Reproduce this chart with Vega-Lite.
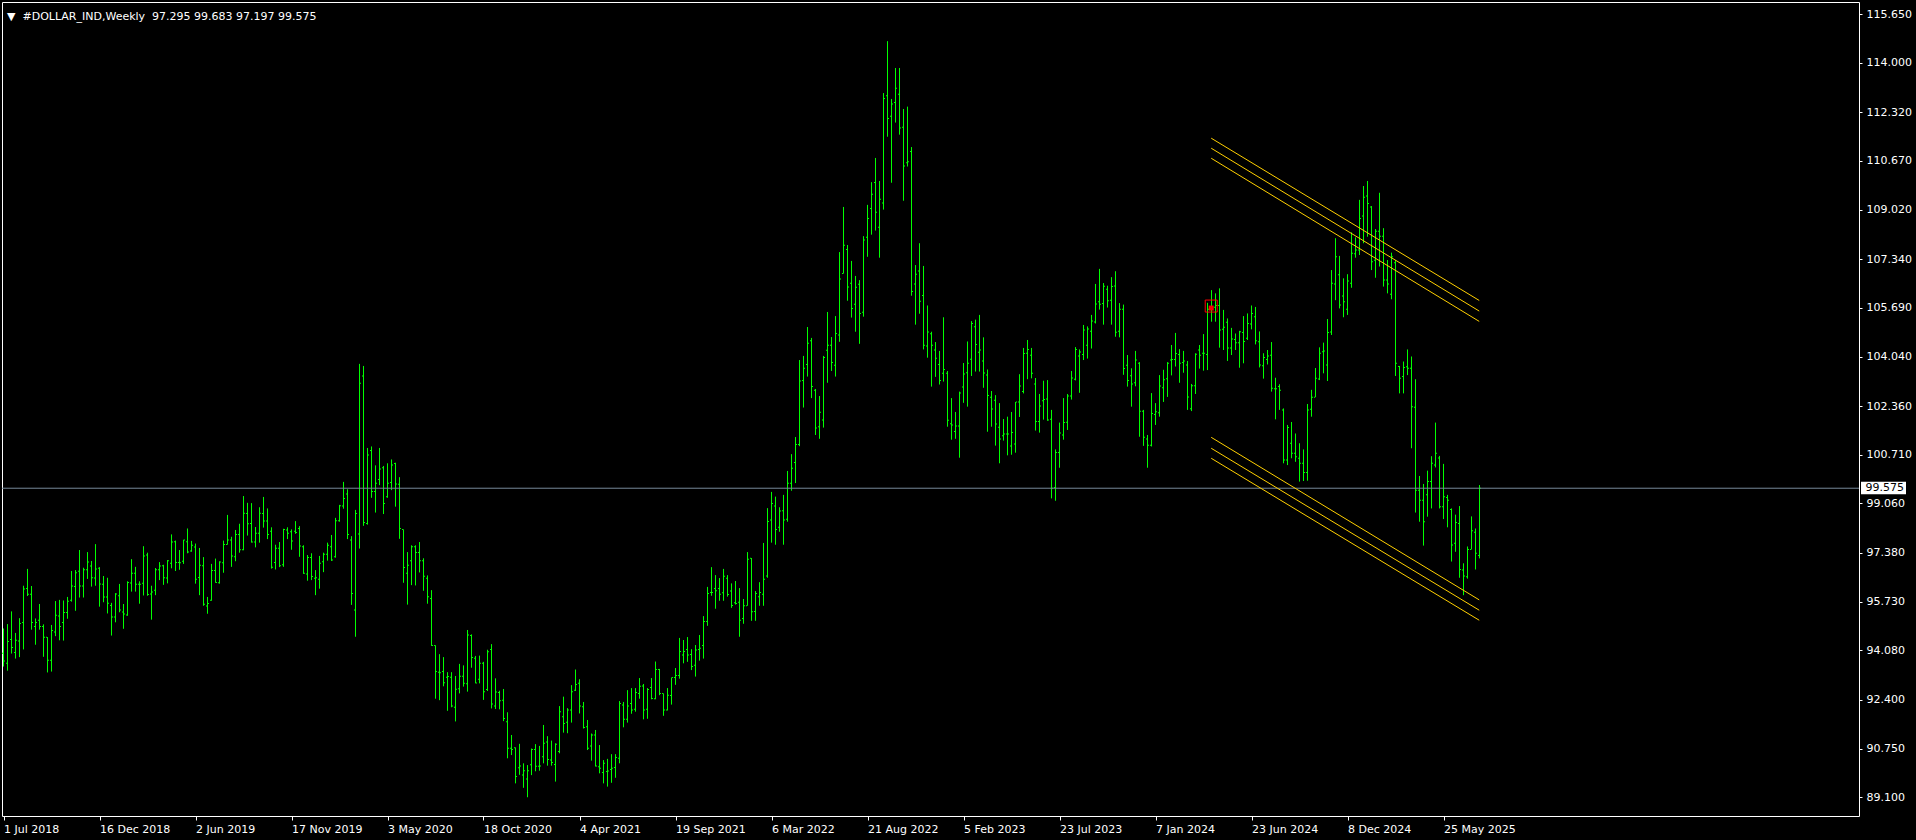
{
"$schema": "https://vega.github.io/schema/vega-lite/v6.json",
"width": 1857, "height": 814,
"autosize": {"type": "none"},
"padding": {"left": 2, "top": 2, "right": 57, "bottom": 24},
"background": "#000000",
"config": {"view": {"stroke": null}, "font": "DejaVu Sans", "axis": {"grid": false}},
"title": {"text": "▼\u00a0\u00a0#DOLLAR_IND,Weekly\u00a0\u00a097.295 99.683 97.197 99.575", "anchor": "start", "frame": "group", "orient": "top", "offset": -15, "baseline": "alphabetic", "dx": 5, "dy": 14, "color": "#ffffff", "fontSize": 11, "fontWeight": "normal", "font": "DejaVu Sans"},
"datasets": {
"bars": [
{"w":0,"o":93.98,"h":94.82,"l":93.53,"c":93.72},
{"w":1,"o":93.64,"h":94.97,"l":93.39,"c":94.38},
{"w":2,"o":94.45,"h":95.40,"l":93.97,"c":94.18},
{"w":3,"o":94.01,"h":94.67,"l":93.80,"c":94.42},
{"w":4,"o":94.40,"h":95.17,"l":93.85,"c":94.99},
{"w":5,"o":95.02,"h":96.27,"l":94.11,"c":96.16},
{"w":6,"o":96.18,"h":96.84,"l":95.92,"c":95.98},
{"w":7,"o":95.98,"h":96.26,"l":94.78,"c":95.02},
{"w":8,"o":94.89,"h":95.16,"l":94.27,"c":95.02},
{"w":9,"o":95.10,"h":95.65,"l":94.78,"c":94.89},
{"w":10,"o":94.89,"h":94.96,"l":93.86,"c":94.52},
{"w":11,"o":94.52,"h":94.53,"l":93.33,"c":93.74},
{"w":12,"o":93.74,"h":94.94,"l":93.36,"c":94.75},
{"w":13,"o":94.70,"h":95.75,"l":94.56,"c":95.27},
{"w":14,"o":95.24,"h":95.79,"l":94.42,"c":94.89},
{"w":15,"o":95.02,"h":95.77,"l":94.41,"c":95.36},
{"w":16,"o":95.36,"h":95.89,"l":95.15,"c":95.74},
{"w":17,"o":95.78,"h":96.77,"l":95.73,"c":96.26},
{"w":18,"o":96.24,"h":96.80,"l":95.42,"c":96.71},
{"w":19,"o":96.76,"h":97.48,"l":95.87,"c":96.26},
{"w":20,"o":96.26,"h":96.88,"l":95.87,"c":96.81},
{"w":21,"o":96.81,"h":97.41,"l":96.50,"c":97.07},
{"w":22,"o":96.94,"h":97.11,"l":96.24,"c":96.54},
{"w":23,"o":96.53,"h":97.68,"l":96.27,"c":96.84},
{"w":24,"o":96.86,"h":96.90,"l":95.56,"c":96.33},
{"w":25,"o":96.32,"h":96.60,"l":95.71,"c":95.89},
{"w":26,"o":95.89,"h":96.54,"l":95.33,"c":95.68},
{"w":27,"o":95.60,"h":95.69,"l":94.58,"c":95.21},
{"w":28,"o":95.21,"h":96.02,"l":95.03,"c":95.99},
{"w":29,"o":95.93,"h":96.33,"l":95.37,"c":95.45},
{"w":30,"o":95.38,"h":95.65,"l":94.81,"c":95.31},
{"w":31,"o":95.28,"h":96.42,"l":95.25,"c":96.38},
{"w":32,"o":96.36,"h":97.17,"l":96.07,"c":96.69},
{"w":33,"o":96.69,"h":96.91,"l":96.07,"c":96.32},
{"w":34,"o":96.32,"h":96.42,"l":95.66,"c":96.32},
{"w":35,"o":96.35,"h":97.61,"l":95.94,"c":97.28},
{"w":36,"o":97.31,"h":97.39,"l":95.93,"c":95.97},
{"w":37,"o":95.99,"h":96.27,"l":95.12,"c":96.06},
{"w":38,"o":96.12,"h":96.87,"l":95.95,"c":96.81},
{"w":39,"o":96.81,"h":97.07,"l":96.46,"c":96.94},
{"w":40,"o":96.95,"h":96.98,"l":96.30,"c":96.54},
{"w":41,"o":96.53,"h":97.14,"l":96.35,"c":97.12},
{"w":42,"o":97.03,"h":98.01,"l":96.86,"c":97.75},
{"w":43,"o":97.76,"h":97.80,"l":96.77,"c":97.06},
{"w":44,"o":97.06,"h":97.48,"l":96.81,"c":97.05},
{"w":45,"o":97.10,"h":97.83,"l":97.01,"c":97.82},
{"w":46,"o":97.76,"h":98.21,"l":97.37,"c":97.41},
{"w":47,"o":97.45,"h":97.79,"l":97.42,"c":97.64},
{"w":48,"o":97.58,"h":97.70,"l":96.34,"c":96.49},
{"w":49,"o":96.55,"h":97.55,"l":95.95,"c":96.96},
{"w":50,"o":96.95,"h":97.24,"l":95.59,"c":95.64},
{"w":51,"o":95.58,"h":95.89,"l":95.32,"c":95.67},
{"w":52,"o":95.78,"h":97.01,"l":95.76,"c":96.79},
{"w":53,"o":96.79,"h":97.19,"l":96.37,"c":96.38},
{"w":54,"o":96.37,"h":97.10,"l":96.34,"c":97.07},
{"w":55,"o":97.05,"h":97.80,"l":96.71,"c":97.67},
{"w":56,"o":97.67,"h":98.67,"l":97.66,"c":97.82},
{"w":57,"o":97.82,"h":97.93,"l":96.91,"c":97.28},
{"w":58,"o":97.25,"h":98.16,"l":97.10,"c":98.01},
{"w":59,"o":98.01,"h":98.37,"l":97.39,"c":97.49},
{"w":60,"o":97.49,"h":99.31,"l":97.47,"c":98.73},
{"w":61,"o":98.72,"h":99.08,"l":97.97,"c":98.37},
{"w":62,"o":98.38,"h":99.07,"l":97.73,"c":97.75},
{"w":63,"o":97.75,"h":98.26,"l":97.57,"c":98.05},
{"w":64,"o":98.05,"h":98.93,"l":97.73,"c":98.73},
{"w":65,"o":98.72,"h":99.28,"l":98.24,"c":98.46},
{"w":66,"o":98.46,"h":98.89,"l":97.85,"c":98.01},
{"w":67,"o":98.12,"h":98.25,"l":96.85,"c":96.90},
{"w":68,"o":97.06,"h":97.66,"l":96.82,"c":97.54},
{"w":69,"o":97.54,"h":97.75,"l":96.90,"c":96.95},
{"w":70,"o":96.98,"h":98.20,"l":96.91,"c":98.18},
{"w":71,"o":98.16,"h":98.25,"l":97.85,"c":98.05},
{"w":72,"o":98.10,"h":98.18,"l":97.49,"c":97.79},
{"w":73,"o":98.12,"h":98.46,"l":98.03,"c":98.07},
{"w":74,"o":98.21,"h":98.29,"l":97.25,"c":97.62},
{"w":75,"o":97.59,"h":97.64,"l":96.67,"c":96.69},
{"w":76,"o":96.67,"h":97.31,"l":96.44,"c":97.23},
{"w":77,"o":97.23,"h":97.37,"l":96.46,"c":96.58},
{"w":78,"o":96.52,"h":96.80,"l":95.95,"c":96.54},
{"w":79,"o":96.49,"h":97.28,"l":96.17,"c":97.03},
{"w":80,"o":97.08,"h":97.39,"l":96.73,"c":97.34},
{"w":81,"o":97.34,"h":97.73,"l":97.12,"c":97.64},
{"w":82,"o":97.59,"h":97.99,"l":97.11,"c":97.14},
{"w":83,"o":97.25,"h":98.57,"l":97.22,"c":98.47},
{"w":84,"o":98.47,"h":99.01,"l":98.44,"c":98.98},
{"w":85,"o":98.97,"h":99.79,"l":98.88,"c":99.23},
{"w":86,"o":99.38,"h":99.54,"l":97.85,"c":98.01},
{"w":87,"o":97.82,"h":97.95,"l":95.62,"c":96.01},
{"w":88,"o":95.45,"h":98.84,"l":94.54,"c":98.72},
{"w":89,"o":98.02,"h":103.79,"l":97.53,"c":103.13},
{"w":90,"o":103.38,"h":103.72,"l":98.30,"c":98.41},
{"w":91,"o":98.38,"h":100.94,"l":98.34,"c":100.70},
{"w":92,"o":100.85,"h":100.99,"l":99.25,"c":99.46},
{"w":93,"o":99.46,"h":100.35,"l":98.75,"c":99.74},
{"w":94,"o":99.87,"h":100.94,"l":99.68,"c":100.23},
{"w":95,"o":100.27,"h":100.33,"l":98.70,"c":99.06},
{"w":96,"o":99.29,"h":100.42,"l":99.25,"c":99.74},
{"w":97,"o":99.77,"h":100.55,"l":99.51,"c":100.36},
{"w":98,"o":100.41,"h":100.44,"l":98.95,"c":99.72},
{"w":99,"o":99.71,"h":99.95,"l":97.86,"c":98.21},
{"w":100,"o":98.18,"h":98.18,"l":96.37,"c":96.89},
{"w":101,"o":96.69,"h":97.41,"l":95.63,"c":96.96},
{"w":102,"o":97.12,"h":97.64,"l":96.29,"c":97.59},
{"w":103,"o":97.59,"h":97.64,"l":96.28,"c":97.40},
{"w":104,"o":97.40,"h":97.75,"l":96.72,"c":97.12},
{"w":105,"o":97.12,"h":97.20,"l":96.10,"c":96.59},
{"w":106,"o":96.52,"h":96.62,"l":95.66,"c":95.90},
{"w":107,"o":95.84,"h":96.12,"l":94.23,"c":94.24},
{"w":108,"o":94.24,"h":94.25,"l":92.44,"c":93.36},
{"w":109,"o":93.34,"h":93.95,"l":92.39,"c":93.32},
{"w":110,"o":93.36,"h":93.85,"l":92.86,"c":92.98},
{"w":111,"o":93.17,"h":93.34,"l":92.03,"c":93.19},
{"w":112,"o":93.17,"h":93.34,"l":92.15,"c":92.19},
{"w":113,"o":92.15,"h":93.21,"l":91.67,"c":92.76},
{"w":114,"o":92.78,"h":93.62,"l":92.62,"c":93.20},
{"w":115,"o":93.20,"h":93.57,"l":92.85,"c":92.96},
{"w":116,"o":92.95,"h":94.77,"l":92.68,"c":94.60},
{"w":117,"o":94.58,"h":94.62,"l":93.49,"c":93.84},
{"w":118,"o":93.81,"h":93.89,"l":92.96,"c":92.97},
{"w":119,"o":93.10,"h":93.90,"l":92.96,"c":93.64},
{"w":120,"o":93.64,"h":93.69,"l":92.40,"c":92.68},
{"w":121,"o":92.75,"h":94.10,"l":92.70,"c":94.03},
{"w":122,"o":94.11,"h":94.29,"l":92.11,"c":92.26},
{"w":123,"o":92.19,"h":93.13,"l":92.09,"c":92.67},
{"w":124,"o":92.65,"h":92.71,"l":92.08,"c":92.37},
{"w":125,"o":92.39,"h":92.77,"l":91.68,"c":91.77},
{"w":126,"o":91.66,"h":91.98,"l":90.42,"c":90.76},
{"w":127,"o":90.76,"h":91.21,"l":90.53,"c":90.72},
{"w":128,"o":90.78,"h":90.79,"l":89.57,"c":89.80},
{"w":129,"o":90.10,"h":90.91,"l":89.86,"c":90.16},
{"w":130,"o":89.85,"h":90.25,"l":89.42,"c":90.00},
{"w":131,"o":89.72,"h":90.19,"l":89.10,"c":90.00},
{"w":132,"o":90.20,"h":90.75,"l":89.85,"c":90.72},
{"w":133,"o":90.72,"h":90.90,"l":89.98,"c":90.15},
{"w":134,"o":90.15,"h":90.84,"l":90.00,"c":90.16},
{"w":135,"o":90.47,"h":91.55,"l":90.25,"c":90.93},
{"w":136,"o":90.97,"h":91.17,"l":90.17,"c":90.38},
{"w":137,"o":90.36,"h":91.02,"l":90.17,"c":90.28},
{"w":138,"o":90.21,"h":90.93,"l":89.63,"c":90.90},
{"w":139,"o":90.65,"h":92.19,"l":90.59,"c":92.00},
{"w":140,"o":91.83,"h":92.51,"l":91.29,"c":91.60},
{"w":141,"o":91.64,"h":92.12,"l":91.27,"c":92.06},
{"w":142,"o":92.06,"h":92.90,"l":91.63,"c":92.68},
{"w":143,"o":92.73,"h":93.43,"l":92.70,"c":92.92},
{"w":144,"o":92.96,"h":93.10,"l":91.94,"c":92.19},
{"w":145,"o":92.17,"h":92.33,"l":91.43,"c":91.46},
{"w":146,"o":91.49,"h":91.72,"l":90.70,"c":90.76},
{"w":147,"o":90.84,"h":91.26,"l":90.34,"c":91.21},
{"w":148,"o":91.21,"h":91.38,"l":90.14,"c":90.16},
{"w":149,"o":90.13,"h":90.87,"l":89.91,"c":90.08},
{"w":150,"o":89.94,"h":90.36,"l":89.57,"c":90.25},
{"w":151,"o":89.97,"h":90.40,"l":89.46,"c":89.99},
{"w":152,"o":90.04,"h":90.56,"l":89.59,"c":90.08},
{"w":153,"o":90.11,"h":90.56,"l":89.76,"c":90.45},
{"w":154,"o":90.42,"h":92.36,"l":90.25,"c":92.28},
{"w":155,"o":92.23,"h":92.33,"l":91.47,"c":91.74},
{"w":156,"o":91.74,"h":92.73,"l":91.63,"c":92.19},
{"w":157,"o":92.28,"h":92.80,"l":91.93,"c":92.06},
{"w":158,"o":92.08,"h":92.80,"l":92.00,"c":92.65},
{"w":159,"o":92.62,"h":93.14,"l":92.44,"c":92.86},
{"w":160,"o":92.87,"h":92.94,"l":91.74,"c":92.06},
{"w":161,"o":92.08,"h":92.80,"l":91.76,"c":92.75},
{"w":162,"o":92.82,"h":93.14,"l":92.42,"c":92.45},
{"w":163,"o":92.44,"h":93.70,"l":92.42,"c":93.43},
{"w":164,"o":93.43,"h":93.45,"l":92.56,"c":92.62},
{"w":165,"o":92.62,"h":92.62,"l":91.86,"c":92.06},
{"w":166,"o":92.06,"h":92.80,"l":92.04,"c":92.56},
{"w":167,"o":92.55,"h":93.16,"l":92.24,"c":93.16},
{"w":168,"o":93.16,"h":93.48,"l":92.91,"c":93.23},
{"w":169,"o":93.23,"h":94.50,"l":93.12,"c":94.04},
{"w":170,"o":93.92,"h":94.43,"l":93.64,"c":94.04},
{"w":171,"o":94.11,"h":94.53,"l":93.69,"c":93.92},
{"w":172,"o":93.94,"h":94.12,"l":93.41,"c":93.53},
{"w":173,"o":93.57,"h":94.26,"l":93.19,"c":94.09},
{"w":174,"o":94.11,"h":94.60,"l":93.73,"c":94.15},
{"w":175,"o":94.24,"h":95.24,"l":93.80,"c":95.06},
{"w":176,"o":95.06,"h":96.23,"l":94.91,"c":96.01},
{"w":177,"o":96.04,"h":96.90,"l":95.93,"c":96.04},
{"w":178,"o":96.18,"h":96.63,"l":95.49,"c":96.10},
{"w":179,"o":96.18,"h":96.53,"l":95.76,"c":95.98},
{"w":180,"o":96.03,"h":96.84,"l":95.76,"c":96.59},
{"w":181,"o":96.52,"h":96.63,"l":95.90,"c":95.97},
{"w":182,"o":96.09,"h":96.35,"l":95.52,"c":95.60},
{"w":183,"o":95.69,"h":96.43,"l":95.63,"c":95.67},
{"w":184,"o":95.71,"h":96.19,"l":94.54,"c":95.10},
{"w":185,"o":95.16,"h":95.82,"l":94.98,"c":95.59},
{"w":186,"o":95.59,"h":97.41,"l":95.59,"c":97.17},
{"w":187,"o":97.20,"h":97.21,"l":95.08,"c":95.39},
{"w":188,"o":95.40,"h":96.09,"l":95.08,"c":96.01},
{"w":189,"o":95.90,"h":96.39,"l":95.59,"c":96.04},
{"w":190,"o":95.98,"h":97.72,"l":95.59,"c":96.49},
{"w":191,"o":96.60,"h":98.90,"l":96.54,"c":98.45},
{"w":192,"o":98.50,"h":99.45,"l":97.73,"c":99.06},
{"w":193,"o":98.97,"h":99.29,"l":97.66,"c":98.18},
{"w":194,"o":98.25,"h":98.93,"l":98.10,"c":98.80},
{"w":195,"o":98.81,"h":99.35,"l":97.66,"c":98.50},
{"w":196,"o":98.52,"h":100.16,"l":98.44,"c":99.74},
{"w":197,"o":99.74,"h":100.73,"l":99.49,"c":100.25},
{"w":198,"o":100.45,"h":101.31,"l":99.75,"c":101.06},
{"w":199,"o":101.06,"h":103.92,"l":101.00,"c":103.21},
{"w":200,"o":103.23,"h":104.06,"l":102.31,"c":103.64},
{"w":201,"o":103.77,"h":105.04,"l":103.36,"c":104.49},
{"w":202,"o":104.57,"h":104.67,"l":102.63,"c":103.02},
{"w":203,"o":102.90,"h":102.94,"l":101.38,"c":101.62},
{"w":204,"o":101.66,"h":102.70,"l":101.25,"c":102.15},
{"w":205,"o":101.89,"h":104.06,"l":101.63,"c":104.01},
{"w":206,"o":104.25,"h":105.55,"l":103.15,"c":104.42},
{"w":207,"o":104.42,"h":104.70,"l":103.55,"c":103.84},
{"w":208,"o":103.74,"h":105.41,"l":103.36,"c":104.82},
{"w":209,"o":104.77,"h":107.58,"l":104.54,"c":106.67},
{"w":210,"o":106.85,"h":109.11,"l":106.85,"c":107.81},
{"w":211,"o":107.67,"h":107.82,"l":105.93,"c":106.40},
{"w":212,"o":106.52,"h":107.28,"l":105.36,"c":105.67},
{"w":213,"o":105.81,"h":106.77,"l":104.88,"c":106.39},
{"w":214,"o":106.49,"h":106.63,"l":104.47,"c":105.50},
{"w":215,"o":105.54,"h":108.12,"l":105.39,"c":107.99},
{"w":216,"o":108.08,"h":109.18,"l":107.42,"c":108.72},
{"w":217,"o":109.06,"h":109.95,"l":108.17,"c":109.54},
{"w":218,"o":109.94,"h":110.77,"l":108.31,"c":108.93},
{"w":219,"o":108.42,"h":109.99,"l":107.39,"c":109.37},
{"w":220,"o":109.24,"h":112.97,"l":109.02,"c":112.79},
{"w":221,"o":112.88,"h":114.73,"l":111.49,"c":112.11},
{"w":222,"o":112.18,"h":112.77,"l":109.93,"c":112.60},
{"w":223,"o":112.65,"h":113.82,"l":111.97,"c":113.13},
{"w":224,"o":112.93,"h":113.82,"l":111.56,"c":111.79},
{"w":225,"o":111.81,"h":112.43,"l":109.32,"c":110.50},
{"w":226,"o":110.61,"h":112.51,"l":110.48,"c":110.64},
{"w":227,"o":110.99,"h":111.14,"l":106.10,"c":106.24},
{"w":228,"o":106.50,"h":107.14,"l":105.12,"c":106.83},
{"w":229,"o":106.94,"h":107.88,"l":105.49,"c":105.91},
{"w":230,"o":106.11,"h":107.11,"l":104.28,"c":104.42},
{"w":231,"o":104.40,"h":105.77,"l":104.00,"c":104.87},
{"w":232,"o":104.81,"h":104.88,"l":103.02,"c":104.42},
{"w":233,"o":104.26,"h":104.53,"l":103.35,"c":103.98},
{"w":234,"o":103.77,"h":104.23,"l":103.09,"c":103.23},
{"w":235,"o":103.47,"h":105.37,"l":103.19,"c":103.60},
{"w":236,"o":103.47,"h":103.55,"l":101.66,"c":101.88},
{"w":237,"o":101.76,"h":102.63,"l":101.22,"c":101.72},
{"w":238,"o":101.50,"h":102.16,"l":101.25,"c":101.68},
{"w":239,"o":101.68,"h":102.85,"l":100.61,"c":102.80},
{"w":240,"o":103.01,"h":103.82,"l":102.47,"c":103.45},
{"w":241,"o":103.49,"h":104.55,"l":102.34,"c":103.81},
{"w":242,"o":103.95,"h":105.24,"l":103.38,"c":105.16},
{"w":243,"o":105.05,"h":105.29,"l":103.53,"c":104.45},
{"w":244,"o":104.18,"h":105.45,"l":103.53,"c":104.26},
{"w":245,"o":103.89,"h":104.69,"l":102.98,"c":103.48},
{"w":246,"o":103.41,"h":103.60,"l":101.49,"c":102.72},
{"w":247,"o":102.66,"h":102.87,"l":101.66,"c":102.26},
{"w":248,"o":102.56,"h":102.73,"l":101.02,"c":101.75},
{"w":249,"o":101.64,"h":102.46,"l":100.42,"c":101.24},
{"w":250,"o":101.35,"h":101.92,"l":101.19,"c":101.41},
{"w":251,"o":101.41,"h":102.00,"l":100.69,"c":101.41},
{"w":252,"o":101.01,"h":102.16,"l":100.71,"c":101.46},
{"w":253,"o":101.07,"h":102.50,"l":100.78,"c":102.50},
{"w":254,"o":102.50,"h":103.44,"l":101.99,"c":103.04},
{"w":255,"o":102.85,"h":104.33,"l":102.79,"c":104.14},
{"w":256,"o":104.15,"h":104.60,"l":103.27,"c":104.28},
{"w":257,"o":104.08,"h":104.33,"l":103.30,"c":103.47},
{"w":258,"o":103.11,"h":103.31,"l":101.53,"c":101.84},
{"w":259,"o":101.84,"h":102.77,"l":101.46,"c":102.36},
{"w":260,"o":102.54,"h":103.22,"l":101.90,"c":102.58},
{"w":261,"o":102.60,"h":103.24,"l":101.86,"c":101.89},
{"w":262,"o":101.91,"h":102.23,"l":99.23,"c":99.57},
{"w":263,"o":99.60,"h":100.89,"l":99.15,"c":100.79},
{"w":264,"o":100.79,"h":101.80,"l":100.27,"c":101.45},
{"w":265,"o":101.38,"h":102.63,"l":101.22,"c":101.80},
{"w":266,"o":101.81,"h":102.77,"l":101.55,"c":102.70},
{"w":267,"o":102.70,"h":103.55,"l":102.58,"c":103.31},
{"w":268,"o":103.27,"h":104.36,"l":103.23,"c":104.28},
{"w":269,"o":104.06,"h":104.28,"l":102.81,"c":104.19},
{"w":270,"o":104.11,"h":105.11,"l":103.92,"c":104.94},
{"w":271,"o":104.42,"h":105.06,"l":103.97,"c":104.97},
{"w":272,"o":104.90,"h":105.45,"l":104.31,"c":105.24},
{"w":273,"o":105.21,"h":106.50,"l":105.16,"c":105.82},
{"w":274,"o":105.90,"h":107.01,"l":105.63,"c":105.81},
{"w":275,"o":105.84,"h":106.53,"l":105.12,"c":106.42},
{"w":276,"o":106.32,"h":106.44,"l":105.70,"c":105.93},
{"w":277,"o":105.95,"h":106.73,"l":105.12,"c":106.41},
{"w":278,"o":106.43,"h":106.93,"l":104.71,"c":104.86},
{"w":279,"o":104.90,"h":105.85,"l":104.69,"c":105.64},
{"w":280,"o":105.64,"h":105.80,"l":103.42,"c":103.63},
{"w":281,"o":103.74,"h":104.09,"l":103.02,"c":103.23},
{"w":282,"o":103.39,"h":103.64,"l":102.34,"c":103.11},
{"w":283,"o":103.15,"h":104.23,"l":103.03,"c":103.92},
{"w":284,"o":103.81,"h":103.85,"l":101.32,"c":102.18},
{"w":285,"o":102.18,"h":102.23,"l":101.01,"c":101.30},
{"w":286,"o":101.24,"h":101.38,"l":100.27,"c":101.03},
{"w":287,"o":101.03,"h":102.80,"l":100.99,"c":102.11},
{"w":288,"o":102.07,"h":102.46,"l":101.72,"c":102.17},
{"w":289,"o":102.13,"h":103.41,"l":102.00,"c":103.04},
{"w":290,"o":102.98,"h":103.59,"l":102.50,"c":103.25},
{"w":291,"o":103.29,"h":103.85,"l":102.67,"c":103.81},
{"w":292,"o":103.92,"h":104.43,"l":103.40,"c":103.94},
{"w":293,"o":103.94,"h":104.84,"l":103.70,"c":104.14},
{"w":294,"o":104.11,"h":104.29,"l":103.15,"c":103.81},
{"w":295,"o":103.84,"h":104.23,"l":103.49,"c":103.89},
{"w":296,"o":103.75,"h":103.89,"l":102.23,"c":102.67},
{"w":297,"o":102.27,"h":103.11,"l":102.19,"c":103.05},
{"w":298,"o":103.05,"h":104.15,"l":102.77,"c":104.12},
{"w":299,"o":104.26,"h":104.43,"l":103.63,"c":104.08},
{"w":300,"o":104.15,"h":104.80,"l":103.56,"c":104.15},
{"w":301,"o":104.11,"h":105.86,"l":103.58,"c":105.64},
{"w":302,"o":105.64,"h":106.29,"l":105.22,"c":105.73},
{"w":303,"o":105.71,"h":106.18,"l":105.22,"c":105.77},
{"w":304,"o":105.77,"h":106.35,"l":104.34,"c":104.94},
{"w":305,"o":104.96,"h":105.62,"l":104.26,"c":105.03},
{"w":306,"o":105.20,"h":105.33,"l":103.89,"c":104.33},
{"w":307,"o":104.33,"h":105.01,"l":104.09,"c":104.63},
{"w":308,"o":104.62,"h":104.82,"l":104.26,"c":104.51},
{"w":309,"o":104.51,"h":104.91,"l":103.66,"c":104.88},
{"w":310,"o":104.85,"h":105.41,"l":103.81,"c":104.55},
{"w":311,"o":104.66,"h":105.50,"l":104.60,"c":105.16},
{"w":312,"o":105.14,"h":105.77,"l":104.96,"c":105.50},
{"w":313,"o":105.39,"h":105.72,"l":104.45,"c":104.57},
{"w":314,"o":104.54,"h":104.89,"l":103.67,"c":103.75},
{"w":315,"o":103.73,"h":104.15,"l":103.29,"c":104.01},
{"w":316,"o":103.94,"h":104.26,"l":103.77,"c":104.06},
{"w":317,"o":104.08,"h":104.53,"l":102.85,"c":102.96},
{"w":318,"o":102.95,"h":103.32,"l":101.91,"c":102.95},
{"w":319,"o":103.02,"h":103.10,"l":102.23,"c":102.90},
{"w":320,"o":102.23,"h":102.28,"l":100.42,"c":100.53},
{"w":321,"o":100.53,"h":101.72,"l":100.36,"c":101.63},
{"w":322,"o":101.10,"h":101.82,"l":100.59,"c":100.76},
{"w":323,"o":100.76,"h":101.43,"l":100.47,"c":100.64},
{"w":324,"o":100.59,"h":101.10,"l":99.80,"c":100.42},
{"w":325,"o":100.42,"h":100.89,"l":99.82,"c":100.11},
{"w":326,"o":100.11,"h":102.43,"l":99.83,"c":102.23},
{"w":327,"o":102.25,"h":102.91,"l":102.00,"c":102.66},
{"w":328,"o":102.66,"h":103.65,"l":102.66,"c":103.30},
{"w":329,"o":103.28,"h":104.35,"l":103.24,"c":104.15},
{"w":330,"o":104.20,"h":104.51,"l":103.47,"c":104.23},
{"w":331,"o":103.75,"h":105.31,"l":103.21,"c":104.85},
{"w":332,"o":104.87,"h":106.97,"l":104.77,"c":106.52},
{"w":333,"o":106.50,"h":108.05,"l":105.95,"c":107.42},
{"w":334,"o":106.81,"h":107.45,"l":105.67,"c":105.79},
{"w":335,"o":106.09,"h":106.69,"l":105.37,"c":105.90},
{"w":336,"o":105.64,"h":106.83,"l":105.45,"c":106.60},
{"w":337,"o":106.52,"h":108.25,"l":106.37,"c":107.54},
{"w":338,"o":107.52,"h":108.08,"l":107.39,"c":107.65},
{"w":339,"o":107.65,"h":109.35,"l":107.48,"c":108.72},
{"w":340,"o":108.80,"h":109.82,"l":107.88,"c":109.44},
{"w":341,"o":109.48,"h":109.99,"l":108.10,"c":109.23},
{"w":342,"o":109.11,"h":109.14,"l":106.97,"c":107.25},
{"w":343,"o":107.30,"h":108.36,"l":106.71,"c":108.29},
{"w":344,"o":108.29,"h":109.59,"l":107.09,"c":108.12},
{"w":345,"o":108.12,"h":108.39,"l":106.41,"c":106.63},
{"w":346,"o":106.63,"h":107.31,"l":106.18,"c":106.50},
{"w":347,"o":106.15,"h":107.56,"l":105.98,"c":107.42},
{"w":348,"o":107.22,"h":107.31,"l":103.38,"c":103.81},
{"w":349,"o":103.70,"h":103.72,"l":102.79,"c":103.30},
{"w":350,"o":103.36,"h":103.87,"l":102.79,"c":103.67},
{"w":351,"o":103.69,"h":104.28,"l":103.41,"c":103.64},
{"w":352,"o":103.64,"h":104.04,"l":100.93,"c":102.34},
{"w":353,"o":102.32,"h":103.27,"l":98.75,"c":99.51},
{"w":354,"o":99.51,"h":99.99,"l":98.44,"c":99.17},
{"w":355,"o":99.17,"h":99.72,"l":97.63,"c":98.44},
{"w":356,"o":99.35,"h":100.17,"l":98.61,"c":99.80},
{"w":357,"o":99.80,"h":100.66,"l":98.89,"c":100.42},
{"w":358,"o":100.36,"h":101.80,"l":100.28,"c":100.76},
{"w":359,"o":100.60,"h":100.67,"l":98.89,"c":98.95},
{"w":360,"o":98.95,"h":100.40,"l":98.53,"c":99.29},
{"w":361,"o":99.26,"h":99.35,"l":98.25,"c":99.17},
{"w":362,"o":98.85,"h":98.89,"l":97.09,"c":97.65},
{"w":363,"o":97.71,"h":98.68,"l":97.42,"c":98.41},
{"w":364,"o":98.38,"h":98.97,"l":96.54,"c":96.82},
{"w":365,"o":96.80,"h":97.03,"l":95.95,"c":96.60},
{"w":366,"o":96.57,"h":97.60,"l":96.51,"c":97.50},
{"w":367,"o":97.50,"h":98.62,"l":97.50,"c":98.13},
{"w":368,"o":98.08,"h":98.21,"l":96.82,"c":97.37},
{"w":369,"o":97.295,"h":99.683,"l":97.197,"c":99.575}
],
"channel": [
{"line":"u1","w":301.93,"p":111.44},{"line":"u1","w":368.93,"p":105.94},
{"line":"u2","w":301.93,"p":111.10},{"line":"u2","w":368.93,"p":105.58},
{"line":"u3","w":301.93,"p":110.76},{"line":"u3","w":368.93,"p":105.23},
{"line":"l1","w":301.93,"p":101.30},{"line":"l1","w":368.93,"p":95.79},
{"line":"l2","w":301.93,"p":100.93},{"line":"l2","w":368.93,"p":95.44},
{"line":"l3","w":301.93,"p":100.59},{"line":"l3","w":368.93,"p":95.10}
],
"marker": [{"w":301.93,"p":105.75}],
"price": [{"p":99.575,"x1":464.375,"x2":475.625,"top":99.796,"bot":99.369,"lx":465.5,"label":"99.575"}]
},
"layer": [
{
"data": {"name": "bars"},
"mark": {"type": "rule", "color": "#00ff00", "strokeWidth": 1},
"encoding": {
"x": {"field": "w", "type": "quantitative", "scale": {"domain": [-0.375, 463.875], "nice": false, "zero": false},
"axis": {"orient": "bottom", "values": [0,24,48,72,96,120,144,168,192,216,240,264,288,312,336,360], "labelExpr": "timeFormat(datetime(2018, 6, 1 + 7*datum.value), '%-d %b %Y')", "labelAlign": "left", "labelBaseline": "top", "labelPadding": 3, "tickSize": 4, "tickColor": "#ffffff", "domainColor": "#ffffff", "labelColor": "#ffffff", "labelFont": "DejaVu Sans", "labelFontSize": 11, "title": null, "labelOverlap": false, "labelFlush": false, "labelBound": false, "grid": false}},
"y": {"field": "l", "type": "quantitative", "scale": {"domain": [88.464, 116.057], "nice": false, "zero": false},
"axis": {"orient": "right", "values": [115.65,114,112.32,110.67,109.02,107.34,105.69,104.04,102.36,100.71,99.06,97.38,95.73,94.08,92.4,90.75,89.1], "format": ".3f", "tickSize": 3, "labelPadding": 4, "tickColor": "#ffffff", "domainColor": "#ffffff", "labelColor": "#ffffff", "labelFont": "DejaVu Sans", "labelFontSize": 11, "title": null, "labelOverlap": false, "labelFlush": false, "labelBound": false, "grid": false}},
"y2": {"field": "h"}
}
},
{
"data": {"name": "bars"},
"mark": {"type": "tick", "orient": "horizontal", "size": 1, "thickness": 1, "xOffset": -1, "color": "#00ff00", "opacity": 1},
"encoding": {
"x": {"field": "w", "type": "quantitative", "scale": {"domain": [-0.375, 463.875], "nice": false, "zero": false},
"axis": {"orient": "top", "labels": false, "ticks": false, "domainColor": "#ffffff", "title": null, "grid": false}},
"y": {"field": "o", "type": "quantitative", "scale": {"domain": [88.464, 116.057], "nice": false, "zero": false},
"axis": {"orient": "left", "labels": false, "ticks": false, "domainColor": "#ffffff", "title": null, "grid": false}}
}
},
{
"data": {"name": "bars"},
"mark": {"type": "tick", "orient": "horizontal", "size": 1, "thickness": 1, "xOffset": 1, "color": "#00ff00", "opacity": 1},
"encoding": {
"x": {"field": "w", "type": "quantitative", "scale": {"domain": [-0.375, 463.875], "nice": false, "zero": false}, "axis": null},
"y": {"field": "c", "type": "quantitative", "scale": {"domain": [88.464, 116.057], "nice": false, "zero": false}, "axis": null}
}
},
{
"data": {"name": "price"},
"mark": {"type": "rule", "color": "#778899", "strokeWidth": 1},
"encoding": {
"y": {"field": "p", "type": "quantitative", "scale": {"domain": [88.464, 116.057], "nice": false, "zero": false}, "axis": null}
}
},
{
"data": {"name": "channel"},
"mark": {"type": "line", "color": "#ffd000", "strokeWidth": 1},
"encoding": {
"x": {"field": "w", "type": "quantitative", "scale": {"domain": [-0.375, 463.875], "nice": false, "zero": false}, "axis": null},
"y": {"field": "p", "type": "quantitative", "scale": {"domain": [88.464, 116.057], "nice": false, "zero": false}, "axis": null},
"detail": {"field": "line", "type": "nominal"}
}
},
{
"data": {"name": "marker"},
"mark": {"type": "square", "filled": false, "size": 144, "color": "#ff0000", "strokeWidth": 1, "opacity": 1},
"encoding": {
"x": {"field": "w", "type": "quantitative", "scale": {"domain": [-0.375, 463.875], "nice": false, "zero": false}, "axis": null},
"y": {"field": "p", "type": "quantitative", "scale": {"domain": [88.464, 116.057], "nice": false, "zero": false}, "axis": null}
}
},
{
"data": {"name": "marker"},
"mark": {"type": "square", "filled": true, "size": 25, "color": "#ff0000", "yOffset": 2, "opacity": 1},
"encoding": {
"x": {"field": "w", "type": "quantitative", "scale": {"domain": [-0.375, 463.875], "nice": false, "zero": false}, "axis": null},
"y": {"field": "p", "type": "quantitative", "scale": {"domain": [88.464, 116.057], "nice": false, "zero": false}, "axis": null}
}
},
{
"data": {"name": "price"},
"mark": {"type": "rect", "color": "#ffffff"},
"encoding": {
"x": {"field": "x1", "type": "quantitative", "scale": {"domain": [-0.375, 463.875], "nice": false, "zero": false}, "axis": null},
"x2": {"field": "x2"},
"y": {"field": "top", "type": "quantitative", "scale": {"domain": [88.464, 116.057], "nice": false, "zero": false}, "axis": null},
"y2": {"field": "bot"}
}
},
{
"data": {"name": "price"},
"mark": {"type": "text", "align": "left", "baseline": "middle", "color": "#000000", "font": "DejaVu Sans", "fontSize": 11},
"encoding": {
"x": {"field": "lx", "type": "quantitative", "scale": {"domain": [-0.375, 463.875], "nice": false, "zero": false}, "axis": null},
"y": {"field": "p", "type": "quantitative", "scale": {"domain": [88.464, 116.057], "nice": false, "zero": false}, "axis": null},
"text": {"field": "label", "type": "nominal"}
}
}
]
}
